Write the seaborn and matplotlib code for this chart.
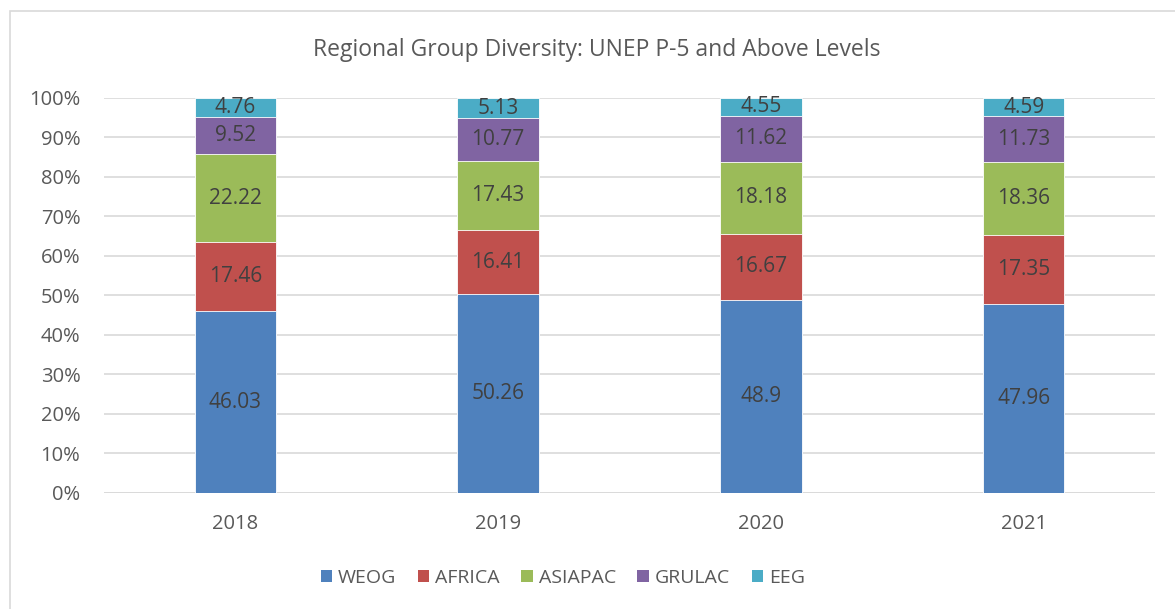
import numpy as np
import pandas as pd
import seaborn as sns
import matplotlib.pyplot as plt
from matplotlib.patches import Rectangle
from matplotlib.patches import Patch

# Data
years = ['2018', '2019', '2020', '2021']
groups = ['WEOG', 'AFRICA', 'ASIAPAC', 'GRULAC', 'EEG']
weog = [46.03, 50.26, 48.9, 47.96]
africa = [17.46, 16.41, 16.67, 17.35]
asiapac = [22.22, 17.43, 18.18, 18.36]
grulac = [9.52, 10.77, 11.62, 11.73]
eeg = [4.76, 5.13, 4.55, 4.59]

colors = ['#4F81BD', '#C0504D', '#9BBB59', '#8064A2', '#4BACC6']
grey = '#595959'

sns.set_theme(style='white')
plt.rcParams['font.family'] = ['Open Sans', 'DejaVu Sans']

df = pd.DataFrame({'year': years, 'WEOG': weog, 'AFRICA': africa,
                   'ASIAPAC': asiapac, 'GRULAC': grulac, 'EEG': eeg})
# 100% stacked: normalise each year
vals = df[groups].to_numpy()
share = vals / vals.sum(axis=1, keepdims=True) * 100
cum = np.cumsum(share, axis=1)

fig = plt.figure(figsize=(11.75, 6.09), dpi=100)
ax = fig.add_axes([0.0885, 0.1905, 0.8945, 0.6486])

# overlay cumulative bars from the top group down
for i in range(len(groups) - 1, -1, -1):
    d = pd.DataFrame({'year': years, 'top': cum[:, i]})
    sns.barplot(data=d, x='year', y='top', order=years, color=colors[i],
                width=0.31, saturation=1, edgecolor='white', linewidth=0.6,
                ax=ax, zorder=2)

# data labels at segment centres
for j in range(len(years)):
    for i in range(len(groups)):
        lo = cum[j, i] - share[j, i]
        ax.text(j, lo + share[j, i] / 2, '{:g}'.format(vals[j, i]),
                ha='center', va='center', fontsize=15, color='#404040', zorder=3)

ax.set_ylim(0, 100)
ax.set_xlim(-0.5, 3.5)
ax.set_yticks(np.arange(0, 101, 10))
ax.set_yticklabels(['{}%'.format(t) for t in range(0, 101, 10)])
ax.yaxis.grid(True, color='#D9D9D9', linewidth=1.2, zorder=0)
ax.set_axisbelow(True)
for s in ax.spines.values():
    s.set_visible(False)
ax.axhline(0, color='#D9D9D9', linewidth=1.2, zorder=1)
ax.set_xlabel('')
ax.set_ylabel('')
ax.tick_params(axis='both', length=0, labelsize=14.5, labelcolor=grey)
ax.tick_params(axis='x', pad=15)
ax.tick_params(axis='y', pad=17)

fig.text(0.508, 0.918, 'Regional Group Diversity: UNEP P-5 and Above Levels',
         ha='center', va='center', fontsize=16.5, color=grey)

handles = [Patch(facecolor=c, edgecolor='none') for c in colors]
fig.legend(handles, groups, loc='center', bbox_to_anchor=(0.479, 0.051), ncol=5,
           frameon=False, fontsize=14, labelcolor=grey, handlelength=0.6,
           handleheight=0.6, handletextpad=0.3, columnspacing=1.1)

# chart border
fig.patches.append(Rectangle((10 / 1175, -0.05), 1.2, 1 - 11 / 609 + 0.05,
                             transform=fig.transFigure, facecolor='none',
                             edgecolor='#D9D9D9', linewidth=1.2))

fig.savefig('out.png', dpi=100)
